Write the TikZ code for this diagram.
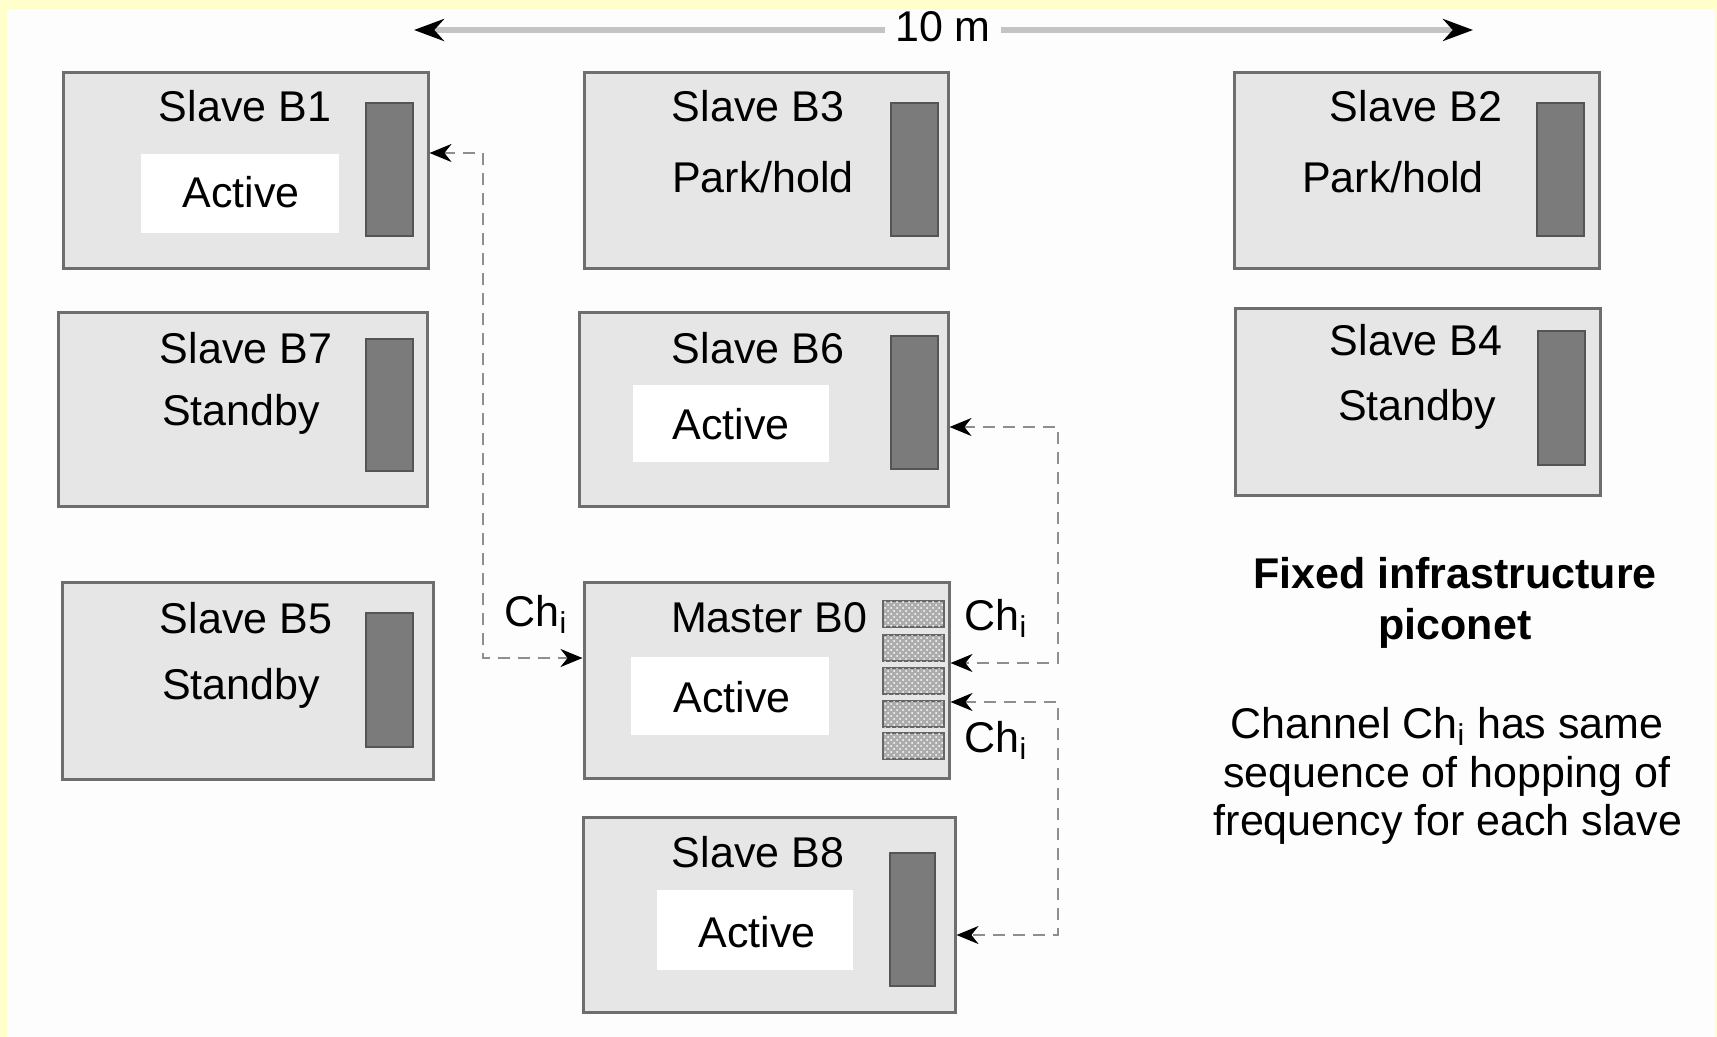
\documentclass[tikz,border=0pt]{standalone}
\usepackage{fontspec}
\setmainfont{Liberation Sans}
\usetikzlibrary{arrows.meta,fit,patterns}
\definecolor{bgyellow}{HTML}{FFFFCC}
\definecolor{bgwhite}{HTML}{FDFDFD}
\definecolor{boxfill}{HTML}{E6E6E6}
\definecolor{boxline}{HTML}{6E6E6E}
\definecolor{barfill}{HTML}{7B7B7B}
\definecolor{barline}{HTML}{555555}
\definecolor{dashcol}{HTML}{8E8E8E}
\definecolor{dimcol}{HTML}{C4C4C4}
\begin{document}
\begin{tikzpicture}[x=0.5pt,y=-0.5pt,
  devbox/.style={draw=boxline, line width=1.5pt, fill=boxfill, inner sep=0pt, fit={#1}},
  devbar/.style={draw=barline, line width=1pt, fill=barfill, inner sep=0pt, fit={#1}},
  statebox/.style={draw=none, fill=white, inner sep=0pt, fit={#1}},
  hcell/.style={draw=gray!80!black, line width=0.6pt, fill=gray!65, inner sep=0pt, fit={#1},
    postaction={pattern=crosshatch dots, pattern color=white}},
  lbl/.style={anchor=base, inner sep=0pt, font=\fontsize{21.5}{25}\selectfont},
  blbl/.style={lbl, font=\fontsize{21.5}{25}\selectfont\bfseries},
  conn/.style={draw=dashcol, line width=1.3pt, dash pattern=on 6pt off 4pt,
    arrows={Stealth[length=11pt,width=9pt,color=black]-Stealth[length=11pt,width=9pt,color=black]}},
  dimline/.style={draw=dimcol, line width=3pt, -{Stealth[length=15pt,width=11pt,color=black]}}
]
\fill[bgyellow] (0,0) rectangle (1717,1037);
\fill[bgwhite] (7,9) rectangle (1715,1037);
\useasboundingbox (0,0) rectangle (1717,1037);

% dimension line
\node[lbl, inner xsep=5pt] (dim) at (943,42) {10 m};
\coordinate (dL) at (414,30);
\coordinate (dR) at (1473,30);
\draw[dimline] (dim.west |- dL) -- (dL);
\draw[dimline] (dim.east |- dR) -- (dR);

% boxes
\node[devbox={(63,73) (428,269)}] (B1) {};
\node[devbox={(584,73) (948,269)}] (B3) {};
\node[devbox={(1234,73) (1599,269)}] (B2) {};
\node[devbox={(58,313) (427,506)}] (B7) {};
\node[devbox={(579,313) (948,506)}] (B6) {};
\node[devbox={(1235,309) (1600,495)}] (B4) {};
\node[devbox={(62,582) (433,779)}] (B5) {};
\node[devbox={(584,582) (949,778)}] (M) {};
\node[devbox={(583,817) (955,1012)}] (B8) {};

% bars
\node[devbar={(366,103) (413,236)}] (bar1) {};
\node[devbar={(891,103) (938,236)}] (bar3) {};
\node[devbar={(1537,103) (1584,236)}] (bar2) {};
\node[devbar={(366,339) (413,471)}] (bar7) {};
\node[devbar={(891,336) (938,469)}] (bar6) {};
\node[devbar={(1538,331) (1585,465)}] (bar4) {};
\node[devbar={(366,613) (413,747)}] (bar5) {};
\node[devbar={(890,853) (935,986)}] (bar8) {};

% master hatched column
\node[hcell={(883,601) (944,627)}] (h1) {};
\node[hcell={(883,635) (944,661)}] (h2) {};
\node[hcell={(883,668) (944,694)}] (h3) {};
\node[hcell={(883,701) (944,727)}] (h4) {};
\node[hcell={(883,733) (944,759)}] (h5) {};

% white state boxes
\node[statebox={(141,154) (339,233)}] (s1) {};
\node[statebox={(633,385) (829,462)}] (s6) {};
\node[statebox={(631,657) (829,735)}] (s0) {};
\node[statebox={(657,890) (853,970)}] (s8) {};

% texts
\node[lbl] (n1) at (245,122) {Slave B1};
\node[lbl] (a1) at (241,208) {Active};
\node[lbl] (n3) at (758,122) {Slave B3};
\node[lbl] (a3) at (763,193) {Park/hold};
\node[lbl] (n2) at (1416,122) {Slave B2};
\node[lbl] (a2) at (1393,193) {Park/hold};
\node[lbl] (n7) at (246,364) {Slave B7};
\node[lbl] (a7) at (241,425) {Standby};
\node[lbl] (n6) at (758,364) {Slave B6};
\node[lbl] (a6) at (731,439) {Active};
\node[lbl] (n4) at (1416,356) {Slave B4};
\node[lbl] (a4) at (1417,420) {Standby};
\node[lbl] (n5) at (246,633) {Slave B5};
\node[lbl] (a5) at (241,699) {Standby};
\node[lbl] (n0) at (769,632) {Master B0};
\node[lbl] (a0) at (732,712) {Active};
\node[lbl] (n8) at (758,867) {Slave B8};
\node[lbl] (a8) at (757,947) {Active};

% connectors
\coordinate (k1) at (483,153);
\coordinate (k2) at (483,658);
\draw[conn] (B1.east |- k1) -- (k1) -- (k2) -- (M.west |- k2);
\coordinate (k3) at (1058,427);
\coordinate (k4) at (1058,663);
\draw[conn] (B6.east |- k3) -- (k3) -- (k4) -- (M.east |- k4);
\coordinate (k5) at (1058,702);
\coordinate (k6) at (1058,935);
\draw[conn] (M.east |- k5) -- (k5) -- (k6) -- (B8.east |- k6);

\node[lbl] (c1) at (536,626) {Ch\textsubscript{i}};
\node[lbl] (c2) at (996,630) {Ch\textsubscript{i}};
\node[lbl] (c3) at (996,752) {Ch\textsubscript{i}};

% right-hand notes
\node[blbl] (f1) at (1455,588) {Fixed infrastructure};
\node[blbl] (f2) at (1455,639) {piconet};
\node[lbl] (g1) at (1447,738) {Channel Ch\textsubscript{i} has same};
\node[lbl] (g2) at (1447,787) {sequence of hopping of};
\node[lbl] (g3) at (1448,835) {frequency for each slave};
\end{tikzpicture}
\end{document}
